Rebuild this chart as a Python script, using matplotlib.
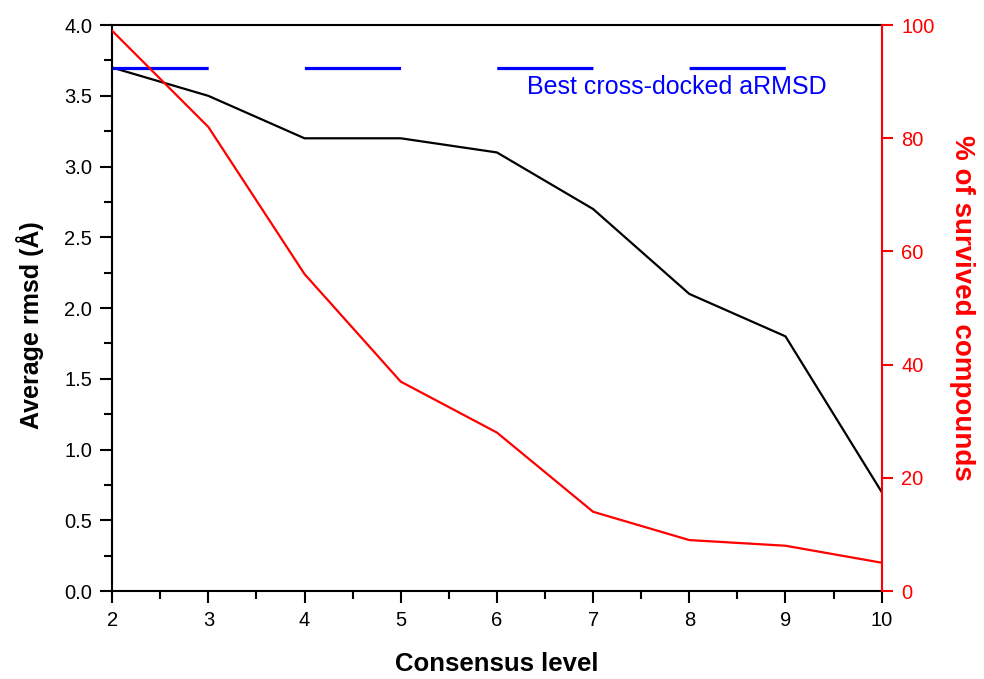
import matplotlib
matplotlib.use('Agg')
import matplotlib.pyplot as plt
from matplotlib.ticker import MultipleLocator, FormatStrFormatter

plt.rcParams['font.family'] = ['Liberation Sans', 'DejaVu Sans']

# data
levels = [2, 3, 4, 5, 6, 7, 8, 9, 10]
avg_rmsd = [3.7, 3.5, 3.2, 3.2, 3.1, 2.7, 2.1, 1.8, 0.7]
survived_pct = [99, 82, 56, 37, 28, 14, 9, 8, 5]
best_rmsd = 3.7
best_label = 'Best cross-docked aRMSD'

fig = plt.figure(figsize=(9.84, 6.79), dpi=100)
ax = fig.add_axes([0.114, 0.1296, 0.782, 0.8334])
ax2 = ax.twinx()

ax.plot(levels, avg_rmsd, color='black', lw=1.6)

# long-dash blue reference line, one unit on / one unit off
lw_best = 2.3
unit_pt = 0.782 * 9.84 * 72 / (levels[-1] - levels[0])
ax.plot([levels[0], levels[-1]], [best_rmsd, best_rmsd], color='#0000ff', lw=lw_best,
        linestyle=(0, (unit_pt / lw_best, unit_pt / lw_best)), dash_capstyle='butt')
ax.text(6.31, 3.56, best_label, color='#0000ff', fontsize=18, va='center', ha='left')

ax2.plot(levels, survived_pct, color='red', lw=1.6)

ax.set_xlim(2, 10)
ax.set_ylim(0, 4)
ax2.set_ylim(0, 100)

ax.xaxis.set_major_locator(MultipleLocator(1))
ax.xaxis.set_minor_locator(MultipleLocator(0.5))
ax.yaxis.set_major_locator(MultipleLocator(0.5))
ax.yaxis.set_minor_locator(MultipleLocator(0.25))
ax.yaxis.set_major_formatter(FormatStrFormatter('%.1f'))
ax2.yaxis.set_major_locator(MultipleLocator(20))

ax.tick_params(which='major', direction='out', length=8.5, width=1.5, labelsize=14.5, pad=6)
ax.tick_params(which='minor', direction='out', length=5.5, width=1.5)
ax.tick_params(top=False, right=False, which='both')
ax2.tick_params(axis='y', direction='out', length=8, width=1.5, colors='red', labelsize=14.5, pad=6)

for s in ['left', 'bottom', 'top']:
    ax.spines[s].set_linewidth(1.5)
ax.spines['right'].set_visible(False)
for s in ['left', 'bottom', 'top']:
    ax2.spines[s].set_visible(False)
ax2.spines['right'].set_color('red')
ax2.spines['right'].set_linewidth(1.5)

ax.set_xlabel('Consensus level', fontsize=18.5, fontweight='bold', va='center', ha='center')
ax.xaxis.set_label_coords(0.5, -0.129)
ax.set_ylabel('Average rmsd (Å)', fontsize=18, fontweight='bold', va='center', ha='center')
ax.yaxis.set_label_coords(-0.1065, 0.47)
ax2.set_ylabel('% of survived compounds', fontsize=20, fontweight='bold', color='red',
               rotation=270, va='center', ha='center')
ax2.yaxis.set_label_coords(1.104, 0.5)

fig.savefig('out.png', dpi=100)
